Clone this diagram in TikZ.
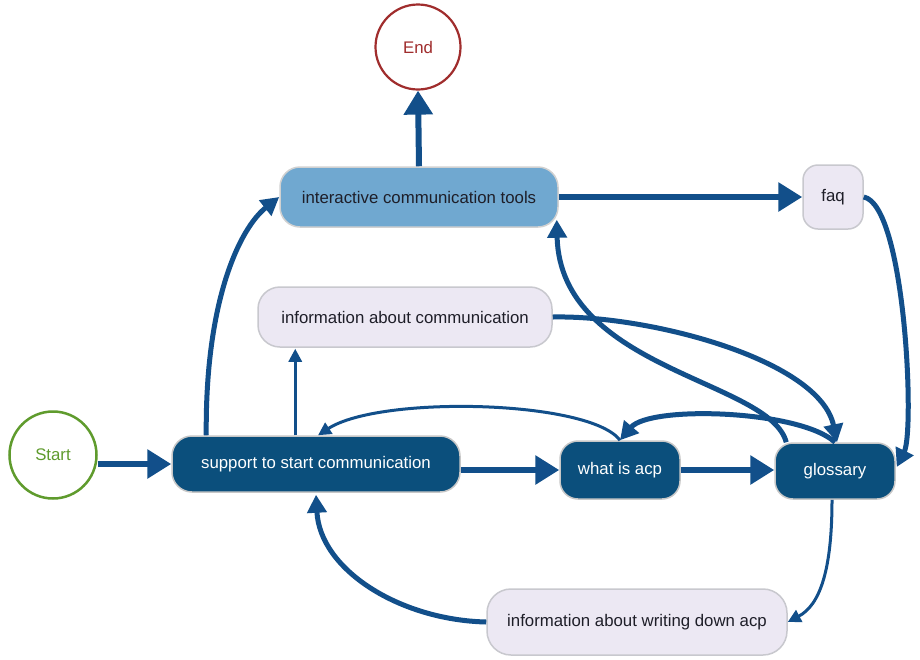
\documentclass[tikz,border=0pt]{standalone}
\usepackage{fontspec}
\setmainfont{Liberation Sans}
\usetikzlibrary{arrows.meta,calc}
\definecolor{edgec}{RGB}{18,79,138}
\definecolor{darkfill}{RGB}{11,79,124}
\definecolor{midfill}{RGB}{112,168,208}
\definecolor{lavfill}{RGB}{236,232,243}
\definecolor{lavdraw}{RGB}{200,200,206}
\definecolor{startc}{RGB}{95,155,45}
\definecolor{endc}{RGB}{160,45,45}
\definecolor{darktext}{RGB}{30,30,40}
\begin{document}
\begin{tikzpicture}[x=1pt,y=-1pt,
  every node/.style={font=\fontsize{16.8}{19}\selectfont},
  darkbox/.style={draw=black!22, line width=1.5pt, fill=darkfill, text=white, rounded corners=20pt, minimum height=56pt, inner sep=0pt},
  midbox/.style={draw=black!18, line width=1.5pt, fill=midfill, text=darktext, rounded corners=20pt, inner sep=0pt},
  lavbox/.style={draw=lavdraw, line width=1.5pt, fill=lavfill, text=darktext, rounded corners=20pt, inner sep=0pt},
  startnode/.style={circle, draw=startc, line width=2.5pt, text=startc, minimum size=87pt, inner sep=0pt, fill=white},
  endnode/.style={circle, draw=endc, line width=2.2pt, text=endc, minimum size=85pt, inner sep=0pt, fill=white},
  thickedge/.style={draw=edgec, line width=6pt, -{Triangle[length=24pt,width=28pt]}},
  mededge/.style={draw=edgec, line width=5pt, -{Triangle[length=18pt,width=19pt]}},
  thinedge/.style={draw=edgec, line width=3pt, -{Triangle[length=13pt,width=13pt]}},
]
\useasboundingbox (0,0) rectangle (920,659);
\fill[white] (0,0) rectangle (920,659);

\node[startnode] (start) at (53,455) {Start};
\node[endnode] (end) at (418,47) {End};
\node[darkbox, minimum width=288pt] (sup) at (316,464) {support to start communication};
\node[darkbox, minimum width=120pt, minimum height=58pt, rounded corners=18pt] (acp) at (620,470) {what is acp};
\node[darkbox, minimum width=120pt, rounded corners=18pt] (glo) at (835,471) {glossary};
\node[midbox, minimum width=278pt, minimum height=60pt] (ict) at (419,197) {interactive communication tools};
\node[lavbox, minimum width=60pt, minimum height=64pt, rounded corners=15pt] (faq) at (833,197) {faq};
\node[lavbox, minimum width=294pt, minimum height=60pt, rounded corners=22pt] (iac) at (405,317) {information about communication};
\node[lavbox, minimum width=300pt, minimum height=66pt, rounded corners=24pt] (iwd) at (637,622) {information about writing down acp};

% straight thick edges
\draw[thickedge] (start.east |- sup.west) -- (sup.west);
\draw[thickedge] (sup.east |- acp.west) -- (acp.west);
\draw[thickedge] (acp.east) -- (glo.west |- acp.east);
\draw[thickedge] (ict.east) -- (faq.west);
\draw[thickedge] (ict.north) -- (end.south);

% thin straight
\draw[thinedge] ($(sup.north west)+(124,0)$) -- ($(iac.south west)+(38,1)$);

% curved medium edges
\draw[mededge] ($(sup.north west)+(35,0)$) .. controls (205,300) and (240,228) .. (ict.west);
\draw[mededge] (faq.east) .. controls (905,205) and (915,430) .. ($(glo.east)+(1,-4)$);
\draw[mededge] (iac.east) .. controls (650,315) and (820,360) .. ($(glo.north)+(2,0)$);
\draw[mededge] ($(glo.north west)+(12,0)$) .. controls (770,380) and (560,370) .. ($(ict.south east)+(-2,-8)$);
\draw[mededge] (glo.north) .. controls (800,410) and (650,405) .. (acp.north);
\draw[mededge] (iwd.west) .. controls (400,620) and (320,570) .. ($(sup.south)+(0,2)$);

% curved thin edges
\draw[thinedge] (acp.north) .. controls (590,400) and (380,395) .. ($(sup.north)+(2,0)$);
\draw[thinedge] ($(glo.south)+(-3,0)$) .. controls (832,570) and (820,605) .. (iwd.east);
\end{tikzpicture}
\end{document}
